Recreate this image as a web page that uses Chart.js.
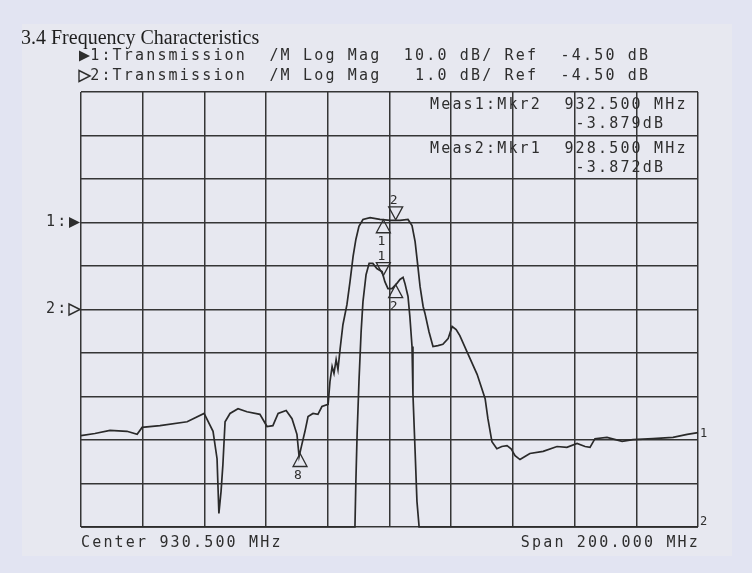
<!DOCTYPE html>
<html>
<head>
<meta charset="utf-8">
<script src="https://cdn.jsdelivr.net/npm/chart.js@4.4.0/dist/chart.umd.min.js"></script>
<style>
  html, body { margin: 0; padding: 0; background: #e2e4f2; }
  #wrap { width: 752px; height: 573px; }
</style>
</head>
<body>
<div id="wrap"><canvas id="c" width="752" height="573"></canvas></div>
<script>
// sweep settings (MHz)
const centerMHz = 930.5;
const spanMHz = 200;

// trace settings: ref level, dB per division, reference line (divisions from bottom)
const refLevel = -4.5;
const trace1PerDiv = 10;
const trace2PerDiv = 1;
const trace1RefDiv = 7;
const trace2RefDiv = 5;

// trace 1: 10 dB/div, wide response
const trace1Freq = [830.5, 835.0, 839.9, 845.4, 848.7, 850.3, 856.1, 864.9, 870.4, 873.3, 874.6, 875.2, 875.9, 876.5,
  877.2, 878.8, 881.4, 884.3, 888.5, 890.8, 892.7, 894.4, 897.0, 898.9, 900.5, 901.2, 902.1, 903.1, 904.1, 905.7,
  907.3, 908.6, 910.6, 911.2, 911.9, 912.5, 913.2, 913.8, 914.5, 915.4, 916.7, 917.7, 918.7, 919.6, 920.6, 921.9,
  924.2, 927.4, 930.7, 933.9, 936.5, 937.8, 938.8, 939.7, 940.4, 941.4, 942.0, 943.3, 944.6, 946.2, 947.8, 949.5,
  950.8, 952.1, 953.3, 955.6, 958.9, 961.5, 962.4, 963.7, 965.3, 966.9, 968.6, 969.9, 971.2, 972.8, 974.4, 976.0,
  980.3, 984.8, 988.0, 991.3, 993.9, 995.5, 997.1, 1001.0, 1005.9, 1009.4, 1015.9, 1022.4, 1027.0, 1030.5];
const trace1Level = [-53.5, -53.0, -52.3, -52.5, -53.2, -51.6, -51.2, -50.3, -48.4, -52.5, -58.8, -71.4, -66.3, -60.1,
  -50.3, -48.4, -47.3, -48.0, -48.6, -51.4, -51.2, -48.4, -47.7, -49.6, -53.2, -58.3, -55.5, -52.5, -49.1, -48.4,
  -48.6, -46.8, -46.3, -41.1, -37.6, -39.2, -36.0, -38.3, -33.5, -28.0, -23.4, -18.1, -12.3, -8.4, -5.4, -3.8,
  -3.4, -3.8, -4.0, -4.0, -3.8, -5.2, -8.9, -14.6, -19.2, -23.8, -25.4, -29.6, -33.0, -32.8, -32.5, -31.2,
  -28.4, -29.1, -30.5, -34.2, -39.4, -45.0, -49.6, -54.9, -56.5, -56.0, -55.8, -56.5, -58.1, -59.0, -58.3, -57.6,
  -57.1, -56.0, -56.2, -55.3, -56.0, -56.2, -54.2, -53.9, -54.8, -54.4, -54.2, -53.9, -53.2, -52.8];

// trace 2: 1 dB/div, passband detail (off-scale parts sit on the bottom line)
const trace2Freq = [830.5, 919.3, 919.6, 920.0, 920.6, 921.3, 921.9, 922.9, 923.9, 925.1, 926.4, 928.1, 929.0, 930.0,
  931.3, 932.9, 933.9, 934.9, 935.5, 936.5, 937.1, 937.8, 938.1, 938.8, 939.4, 940.1, 1030.5];
const trace2Level = [-9.5, -9.5, -8.45, -7.37, -6.16, -5.01, -4.32, -3.70, -3.44, -3.44, -3.56, -3.63, -3.86, -4.02,
  -4.02, -3.90, -3.81, -3.76, -3.90, -4.20, -4.66, -5.35, -6.45, -7.76, -8.91, -9.5, -9.5];

// markers
const markerNames = ['1', '2'];
const markerFreq = [928.5, 932.5];
const trace1MarkerLevel = [-3.87, -3.88];
const trace2MarkerLevel = [-3.72, -3.93];
const trace1MarkerUp = [true, false];
const trace2MarkerUp = [false, true];
const extraMarkerName = '8';
const extraMarkerFreq = 901.5;
const extraMarkerLevel = -57.6;

const headerLines = [
  ' 1:Transmission  /M Log Mag  10.0 dB/ Ref  -4.50 dB',
  ' 2:Transmission  /M Log Mag   1.0 dB/ Ref  -4.50 dB'
];
const measLines = [
  'Meas1:Mkr2  932.500 MHz',
  '             -3.879dB',
  'Meas2:Mkr1  928.500 MHz',
  '             -3.872dB'
];
const footLeft = 'Center 930.500 MHz';
const footRight = 'Span 200.000 MHz';

const ink = '#2e2e2e';
const PITCH = 11.2;
const MONO = '15px "DejaVu Sans Mono", monospace';

function divTicks(scale) {
  const step = (scale.max - scale.min) / 10;
  scale.ticks = [];
  for (let i = 0; i <= 10; i++) scale.ticks.push({ value: scale.min + i * step });
}

function mono(ctx, str, x, y) {
  for (let i = 0; i < str.length; i++) {
    if (str[i] !== ' ') ctx.fillText(str[i], x + i * PITCH, y);
  }
}

function tri(ctx, x, y, up, w, h) {
  // outline triangle, tip at (x, y)
  ctx.beginPath();
  ctx.moveTo(x, y);
  const d = up ? h : -h;
  ctx.lineTo(x - w, y + d);
  ctx.lineTo(x + w, y + d);
  ctx.closePath();
  ctx.stroke();
}

function sideTri(ctx, x, y, filled) {
  // right pointing, tip at (x, y)
  ctx.beginPath();
  ctx.moveTo(x, y);
  ctx.lineTo(x - 11, y - 5.5);
  ctx.lineTo(x - 11, y + 5.5);
  ctx.closePath();
  if (filled) ctx.fill(); else ctx.stroke();
}

const decorations = {
  id: 'decorations',
  beforeDraw(chart) {
    const ctx = chart.ctx;
    ctx.save();
    ctx.fillStyle = '#e2e4f2';
    ctx.fillRect(0, 0, chart.width, chart.height);
    ctx.fillStyle = '#e7e8f0';
    ctx.fillRect(22, 24, 710, 532);
    ctx.restore();
  },
  afterDraw(chart) {
    const ctx = chart.ctx;
    const xs = chart.scales.x, y1 = chart.scales.y, y2 = chart.scales.y2;
    ctx.save();
    ctx.fillStyle = '#1e1e1e';
    ctx.font = '20px "Liberation Serif", serif';
    ctx.textBaseline = 'alphabetic';
    ctx.fillText('3.4 Frequency Characteristics', 21, 44);

    ctx.fillStyle = ink;
    ctx.strokeStyle = ink;
    ctx.lineWidth = 1.4;
    ctx.font = MONO;
    ctx.textBaseline = 'middle';
    ctx.textAlign = 'left';
    mono(ctx, headerLines[0], 79, 56);
    mono(ctx, headerLines[1], 79, 76);
    sideTri(ctx, 90, 56, true);
    sideTri(ctx, 90, 76, false);

    // meas readouts
    measLines.forEach((s, i) => mono(ctx, s, 430, [105, 124, 149, 168][i]));

    // footer
    mono(ctx, footLeft, 81, 543);
    mono(ctx, footRight, 698 - footRight.length * PITCH + 2, 543);

    // reference position indicators
    const r1 = y1.getPixelForValue(refLevel);
    const r2 = y2.getPixelForValue(refLevel);
    mono(ctx, '1:', 46, r1);
    mono(ctx, '2:', 46, r2);
    sideTri(ctx, 80, r1, true);
    sideTri(ctx, 80, r2, false);

    // markers
    ctx.lineWidth = 1.3;
    ctx.textAlign = 'center';
    ctx.font = '13px "DejaVu Sans Mono", monospace';
    const drawMarker = (name, f, lvl, scale, up) => {
      const px = xs.getPixelForValue(f);
      const py = scale.getPixelForValue(lvl);
      tri(ctx, px, py, up, 7, 13);
      ctx.fillText(name, px - 2, up ? py + 22 : py - 19);
    };
    markerNames.forEach((n, i) => {
      drawMarker(n, markerFreq[i], trace1MarkerLevel[i], y1, trace1MarkerUp[i]);
      drawMarker(n, markerFreq[i], trace2MarkerLevel[i], y2, trace2MarkerUp[i]);
    });
    drawMarker(extraMarkerName, extraMarkerFreq, extraMarkerLevel, y1, true);

    // trace end labels
    ctx.font = '12px "DejaVu Sans Mono", monospace';
    ctx.textAlign = 'left';
    ctx.fillText('1', 700, y1.getPixelForValue(trace1Level[trace1Level.length - 1]) + 1);
    ctx.fillText('2', 700, y2.getPixelForValue(trace2Level[trace2Level.length - 1]) - 5);
    ctx.restore();
  }
};

const toPoints = (fs, ls) => fs.map((f, i) => ({ x: f, y: ls[i] }));

new Chart(document.getElementById('c'), {
  type: 'line',
  data: {
    datasets: [
      {
        label: 'Trace 1',
        data: toPoints(trace1Freq, trace1Level),
        yAxisID: 'y',
        borderColor: '#2a2a2a',
        borderWidth: 1.7,
        pointRadius: 0,
        tension: 0,
        clip: false
      },
      {
        label: 'Trace 2',
        data: toPoints(trace2Freq, trace2Level),
        yAxisID: 'y2',
        borderColor: '#2a2a2a',
        borderWidth: 1.7,
        pointRadius: 0,
        tension: 0,
        clip: false
      }
    ]
  },
  options: {
    responsive: false,
    animation: false,
    events: [],
    layout: { padding: { left: 81, right: 54, top: 92, bottom: 46 } },
    plugins: { legend: { display: false }, tooltip: { enabled: false } },
    scales: {
      x: {
        type: 'linear',
        min: centerMHz - spanMHz / 2,
        max: centerMHz + spanMHz / 2,
        afterBuildTicks: divTicks,
        afterFit: s => { s.height = 0; },
        ticks: { display: false },
        border: { display: false },
        grid: { color: '#353535', lineWidth: 1.5, drawTicks: false }
      },
      y: {
        position: 'left',
        min: refLevel - trace1RefDiv * trace1PerDiv,
        max: refLevel + (10 - trace1RefDiv) * trace1PerDiv,
        afterBuildTicks: divTicks,
        afterFit: s => { s.width = 0; },
        ticks: { display: false },
        border: { display: false },
        grid: { color: '#353535', lineWidth: 1.5, drawTicks: false }
      },
      y2: {
        position: 'right',
        min: refLevel - trace2RefDiv * trace2PerDiv,
        max: refLevel + (10 - trace2RefDiv) * trace2PerDiv,
        afterBuildTicks: divTicks,
        afterFit: s => { s.width = 0; },
        ticks: { display: false },
        border: { display: false },
        grid: { display: false }
      }
    }
  },
  plugins: [decorations]
});
</script>
</body>
</html>
